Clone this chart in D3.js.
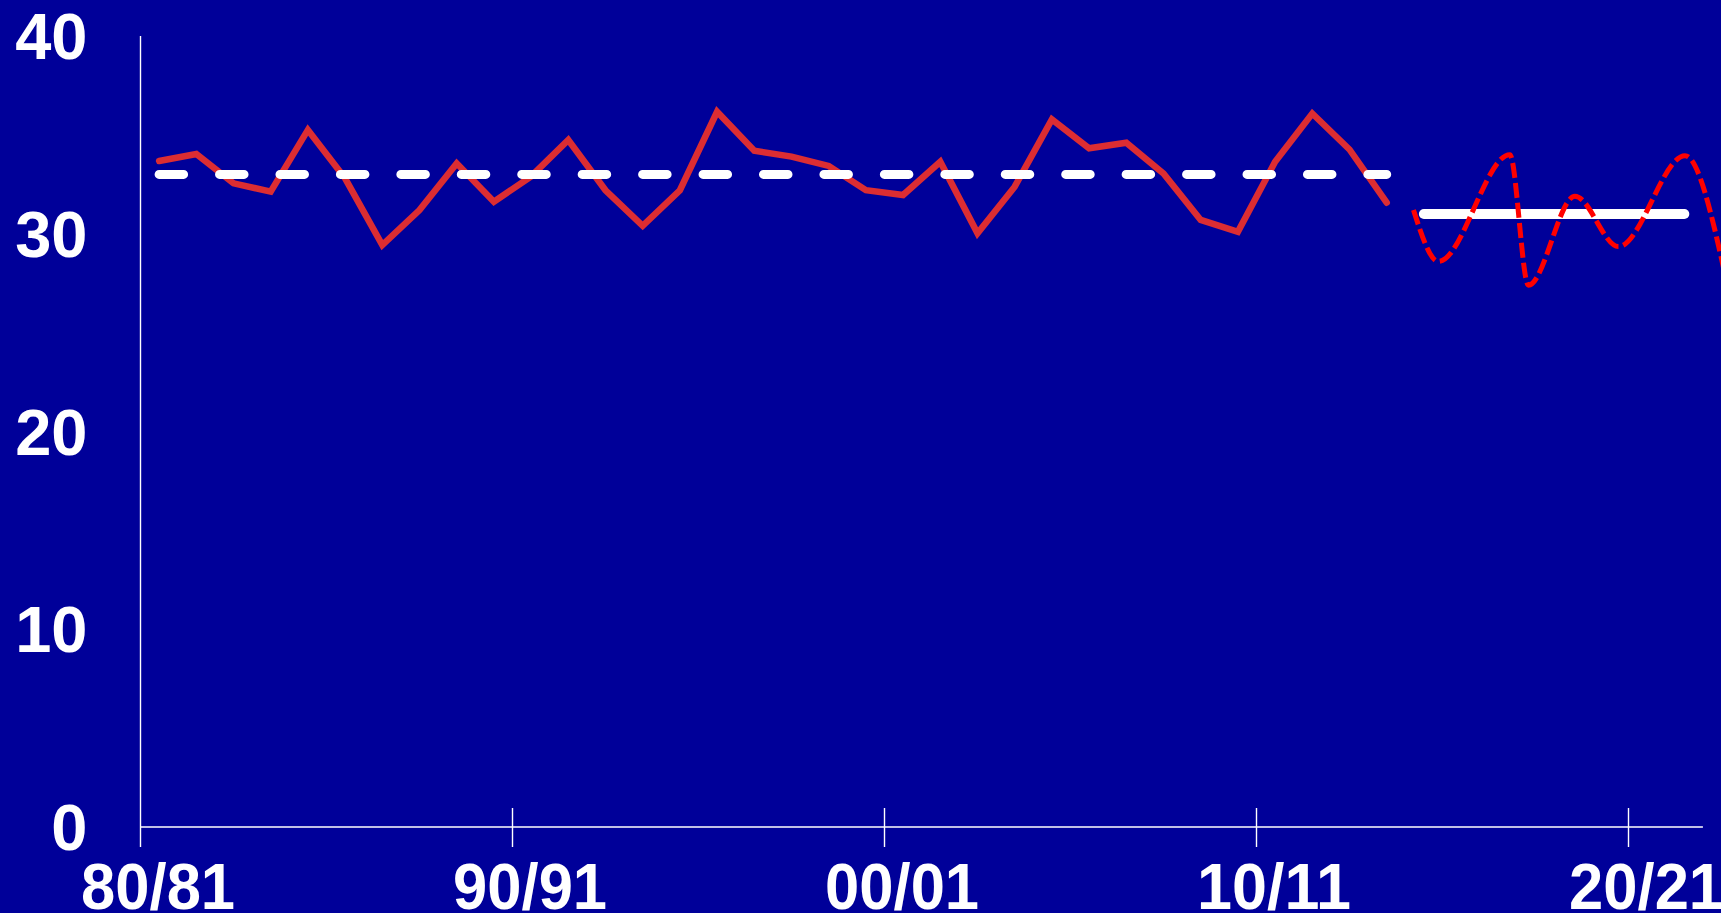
<!DOCTYPE html>
<html>
<head>
<meta charset="utf-8">
<script src="https://cdn.jsdelivr.net/npm/d3@7"></script>
<style>
  html, body { margin: 0; padding: 0; background: #000099; overflow: hidden; }
  svg { display: block; }
</style>
</head>
<body>
<script>
// ---- data ----
const tickLabels = ["80/81", "90/91", "00/01", "10/11", "20/21"];
const tickIndex = [0, 10, 20, 30, 40];
const yTicks = [0, 10, 20, 30, 40];
// yearly values, 1980/81 .. 2013/14
const histValues = [33.68, 34.03, 32.55, 32.13, 35.25, 32.8, 29.43, 31.2, 33.56, 31.62,
                    32.9, 34.74, 32.2, 30.4, 32.2, 36.17, 34.2, 33.9, 33.43, 32.2,
                    31.96, 33.64, 30.02, 32.38, 35.78, 34.32, 34.6, 33.05, 30.7, 30.1,
                    33.64, 36.08, 34.26, 31.57];
const histMean = 33.0;
const projMean = 31.0;
const projRange = [34.5, 41.5];
const projX = [34.22, 34.89, 36.81, 37.31, 38.56, 39.73, 41.52, 42.6];
const projValues = [31.2, 28.6, 34.0, 27.4, 31.9, 29.35, 33.95, 27.9];

// ---- layout ----
const W = 1721, H = 913;
const svg = d3.select("body").append("svg").attr("width", W).attr("height", H);
svg.append("rect").attr("width", W).attr("height", H).attr("fill", "#000099");

const x = d3.scaleLinear().domain([0, 42]).range([140.5, 1702.9]);
const y = d3.scaleLinear().domain([0, 40]).range([827, 36]);

const font = "'Liberation Sans', Arial, sans-serif";

// axes
const axisG = svg.append("g").attr("stroke", "#ffffff").attr("stroke-width", 1.4);
axisG.append("line").attr("x1", x(0)).attr("x2", x(0)).attr("y1", y(40)).attr("y2", y(0) + 20);
axisG.append("line").attr("x1", x(0)).attr("x2", x(42)).attr("y1", y(0)).attr("y2", y(0));
axisG.selectAll("line.tick").data(tickIndex.slice(1)).enter().append("line")
  .attr("class", "tick")
  .attr("x1", d => x(d)).attr("x2", d => x(d))
  .attr("y1", y(0) - 19).attr("y2", y(0) + 20);

// y labels
svg.append("g").selectAll("text").data(yTicks).enter().append("text")
  .attr("x", 87.5).attr("y", d => y(d) + 23)
  .attr("text-anchor", "end")
  .attr("fill", "#ffffff").attr("font-family", font).attr("font-weight", "bold")
  .attr("font-size", 65).text(d => d);

// x labels
svg.append("g").selectAll("text").data(tickIndex).enter().append("text")
  .attr("x", (d) => x(d + 0.5) - 1).attr("y", 908.5)
  .attr("text-anchor", "middle")
  .attr("textLength", 154).attr("lengthAdjust", "spacingAndGlyphs")
  .attr("fill", "#ffffff").attr("font-family", font).attr("font-weight", "bold")
  .attr("font-size", 65).text((d, i) => tickLabels[i]);

// historical line
const line = d3.line().x(d => x(d[0])).y(d => y(d[1]));
svg.append("path")
  .datum(histValues.map((v, i) => [i + 0.5, v]))
  .attr("d", line)
  .attr("fill", "none").attr("stroke", "#dc2d32").attr("stroke-width", 6.5)
  .attr("stroke-linejoin", "miter").attr("stroke-linecap", "round");

// historical mean (dashed white)
svg.append("path")
  .datum([[0.5, histMean], [histValues.length - 0.5, histMean]])
  .attr("d", line)
  .attr("fill", "none").attr("stroke", "#ffffff").attr("stroke-width", 9)
  .attr("stroke-linecap", "round").attr("stroke-dasharray", "24.5 35.94");

// projected mean (solid white)
svg.append("path")
  .datum([[projRange[0], projMean], [projRange[1], projMean]])
  .attr("d", line)
  .attr("fill", "none").attr("stroke", "#ffffff").attr("stroke-width", 10)
  .attr("stroke-linecap", "round");

// projection (dashed red, smoothed)
const smooth = d3.line().x(d => x(d[0])).y(d => y(d[1])).curve(d3.curveMonotoneX);
svg.append("path")
  .datum(projX.map((px, i) => [px, projValues[i]]))
  .attr("d", smooth)
  .attr("fill", "none").attr("stroke", "#ff0000").attr("stroke-width", 5)
  .attr("stroke-dasharray", "15 5");
</script>
</body>
</html>
